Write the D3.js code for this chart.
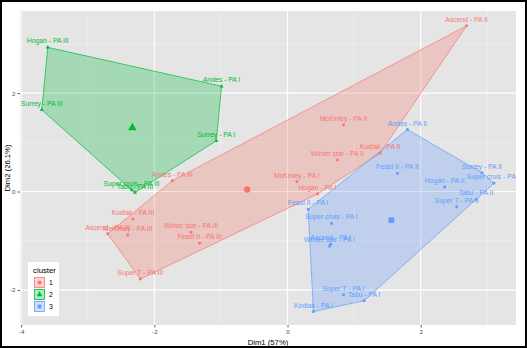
<!DOCTYPE html>
<html>
<head>
<meta charset="utf-8">
<title>Cluster plot</title>
<script src="https://cdnjs.cloudflare.com/ajax/libs/d3/7.8.5/d3.min.js"></script>
<style>
  body { margin: 0; background: #fff; }
  svg { display: block; font-family: "Liberation Sans", Arial, sans-serif; }
</style>
</head>
<body>
<script>
// Cultivar names
const names = [
  "Ascend - PA II", "Andes - PA III", "Kodiak - PA III", "Ascend - PA III",
  "McKinley - PA III", "Super T - PA III", "Winter star - PA III", "Feast II - PA III",
  "McKinley - PA II", "Winter star - PA II", "McKinley - PA I", "Hogan - PA I",
  "Kodiak - PA II",
  "Hogan - PA III", "Surrey - PA III", "Andes - PA I", "Surrey - PA I",
  "Super cruis - PA III", "Tabu - PA III",
  "Andes - PA II", "Feast II - PA II", "Surrey - PA II", "Super cruis - PA II",
  "Hogan - PA II", "Tabu - PA II", "Super T - PA II", "Feast II - PA I",
  "Super cruis - PA I", "Winter star - PA I", "Ascend - PA I", "Kodiak - PA I",
  "Super T - PA I", "Tabu - PA I"
];
const dim1 = [
  2.69, -1.73, -2.32, -2.70, -2.40, -2.21, -1.45, -1.32, 0.84, 0.75, 0.14, 0.45, 1.39,
  -3.60, -3.69, -0.99, -1.07, -2.34, -2.29,
  1.80, 1.65, 2.92, 3.10, 2.36, 2.83, 2.54, 0.31, 0.66, 0.63, 0.65, 0.39, 0.84, 1.15
];
const dim2 = [
  3.37, 0.22, -0.56, -0.86, -0.89, -1.78, -0.83, -1.05, 1.35, 0.64, 0.20, -0.05, 0.78,
  2.93, 1.66, 2.14, 1.03, 0.03, -0.02,
  1.26, 0.37, 0.38, 0.17, 0.09, -0.16, -0.31, -0.36, -0.65, -1.11, -1.07, -2.44, -2.10, -2.22
];
const cluster = [
  "1", "1", "1", "1", "1", "1", "1", "1", "1", "1", "1", "1", "1",
  "2", "2", "2", "2", "2", "2",
  "3", "3", "3", "3", "3", "3", "3", "3", "3", "3", "3", "3", "3", "3"
];
const clusterIds = ["1", "2", "3"];
const xTicks = [-4, -2, 0, 2];
const yTicks = [-2, 0, 2];

// Colours and shapes per cluster
const colors = ["#F8766D", "#00BA38", "#619CFF"];
const shapes = [d3.symbolCircle, d3.symbolTriangle, d3.symbolSquare];

const w = 527;
const h = 348;
const panel = { left: 20, right: 516, top: 11, bottom: 325 };

const svg = d3.select("body")
  .append("svg")
  .attr("width", w)
  .attr("height", h);

// Black frame around the picture
svg.append("rect")
  .attr("x", 1).attr("y", 1)
  .attr("width", w - 2).attr("height", h - 2)
  .attr("fill", "#fff")
  .attr("stroke", "#000")
  .attr("stroke-width", 2);

const xScale = d3.scaleLinear()
  .domain([-4.017, 3.431])
  .range([panel.left, panel.right]);

const yScale = d3.scaleLinear()
  .domain([-2.713, 3.669])
  .range([panel.bottom, panel.top]);

const colorScale = d3.scaleOrdinal().domain(clusterIds).range(colors);
const shapeScale = d3.scaleOrdinal().domain(clusterIds).range(shapes);

// Panel background
svg.append("rect")
  .attr("x", panel.left).attr("y", panel.top)
  .attr("width", panel.right - panel.left)
  .attr("height", panel.bottom - panel.top)
  .attr("fill", "#E5E5E5");

svg.append("clipPath")
  .attr("id", "clip")
  .append("rect")
  .attr("x", panel.left).attr("y", panel.top)
  .attr("width", panel.right - panel.left)
  .attr("height", panel.bottom - panel.top);

// Minor and major grid lines
const grid = svg.append("g");
const minorX = xTicks.map(t => t + 1);
const minorY = yTicks.map(t => t + 1);
grid.selectAll(".minx").data(minorX).enter().append("line")
  .attr("x1", d => xScale(d)).attr("x2", d => xScale(d))
  .attr("y1", panel.top).attr("y2", panel.bottom)
  .attr("stroke", "#F2F2F2").attr("stroke-width", 0.6);
grid.selectAll(".miny").data(minorY).enter().append("line")
  .attr("y1", d => yScale(d)).attr("y2", d => yScale(d))
  .attr("x1", panel.left).attr("x2", panel.right)
  .attr("stroke", "#F2F2F2").attr("stroke-width", 0.6);
grid.selectAll(".majx").data(xTicks).enter().append("line")
  .attr("x1", d => xScale(d)).attr("x2", d => xScale(d))
  .attr("y1", panel.top).attr("y2", panel.bottom)
  .attr("stroke", "#fff").attr("stroke-width", 1.1);
grid.selectAll(".majy").data(yTicks).enter().append("line")
  .attr("y1", d => yScale(d)).attr("y2", d => yScale(d))
  .attr("x1", panel.left).attr("x2", panel.right)
  .attr("stroke", "#fff").attr("stroke-width", 1.1);

// Build the points table
const points = names.map((n, i) => ({ name: n, x: dim1[i], y: dim2[i], c: cluster[i] }));

const plot = svg.append("g").attr("clip-path", "url(#clip)");

// Convex hull per cluster
clusterIds.forEach(function(id) {
  const pts = points.filter(p => p.c === id).map(p => [xScale(p.x), yScale(p.y)]);
  const hull = d3.polygonHull(pts);
  plot.append("path")
    .attr("d", "M" + hull.join("L") + "Z")
    .attr("fill", colorScale(id))
    .attr("fill-opacity", 0.28)
    .attr("stroke", colorScale(id))
    .attr("stroke-width", 0.7);
});

// Observations
plot.selectAll(".pt")
  .data(points)
  .enter()
  .append("path")
  .attr("class", "pt")
  .attr("transform", d => `translate(${xScale(d.x)},${yScale(d.y)})`)
  .attr("d", d => d3.symbol().type(shapeScale(d.c)).size(7)())
  .attr("fill", d => colorScale(d.c));

// Labels above the points
plot.selectAll(".lbl")
  .data(points)
  .enter()
  .append("text")
  .attr("class", "lbl")
  .attr("x", d => xScale(d.x))
  .attr("y", d => yScale(d.y) - 4)
  .attr("text-anchor", "middle")
  .attr("font-size", "6.8px")
  .attr("fill", d => colorScale(d.c))
  .text(d => d.name);

// Cluster centres
const centres = clusterIds.map(function(id) {
  const pts = points.filter(p => p.c === id);
  return { c: id, x: d3.mean(pts, p => p.x), y: d3.mean(pts, p => p.y) };
});
plot.selectAll(".centre")
  .data(centres)
  .enter()
  .append("path")
  .attr("transform", d => `translate(${xScale(d.x)},${yScale(d.y)})`)
  .attr("d", d => d3.symbol().type(shapeScale(d.c)).size(32)())
  .attr("fill", d => colorScale(d.c));

// Axes (plain hyphen for negatives, no decimals)
const xAxis = svg.append("g")
  .attr("transform", `translate(0,${panel.bottom})`)
  .call(d3.axisBottom(xScale).tickValues(xTicks).tickFormat(d => String(d))
    .tickSize(2.5).tickPadding(2));
const yAxis = svg.append("g")
  .attr("transform", `translate(${panel.left},0)`)
  .call(d3.axisLeft(yScale).tickValues(yTicks).tickFormat(d => String(d))
    .tickSize(2.5).tickPadding(2));
[xAxis, yAxis].forEach(function(a) {
  a.select(".domain").remove();
  a.selectAll("line").attr("stroke", "#333").attr("stroke-width", 0.8);
  a.selectAll("text")
    .attr("fill", "#4D4D4D")
    .style("font-size", "6.2px")
    .style("font-family", "'Liberation Sans', Arial, sans-serif");
});

// Axis titles
svg.append("text")
  .attr("x", (panel.left + panel.right) / 2)
  .attr("y", 344.5)
  .attr("text-anchor", "middle")
  .attr("font-size", "7.7px")
  .text("Dim1 (57%)");

svg.append("text")
  .attr("transform", `translate(9.5,${(panel.top + panel.bottom) / 2}) rotate(-90)`)
  .attr("text-anchor", "middle")
  .attr("font-size", "7.7px")
  .text("Dim2 (26.1%)");

// Legend
const legend = svg.append("g").attr("transform", "translate(28,262)");
legend.append("rect")
  .attr("width", 31).attr("height", 54)
  .attr("fill", "#fff");
legend.append("text")
  .attr("x", 5).attr("y", 11)
  .attr("font-size", "7.8px")
  .text("cluster");
const keys = legend.selectAll(".key")
  .data(clusterIds)
  .enter()
  .append("g")
  .attr("transform", (d, i) => `translate(6,${15 + i * 12})`);
keys.append("rect")
  .attr("x", 0.5).attr("y", 0.5)
  .attr("width", 10).attr("height", 10)
  .attr("fill", d => colorScale(d))
  .attr("fill-opacity", 0.3)
  .attr("stroke", d => colorScale(d))
  .attr("stroke-width", 0.8);
keys.append("path")
  .attr("transform", "translate(5.5,5.5)")
  .attr("d", d => d3.symbol().type(shapeScale(d)).size(14)())
  .attr("fill", d => colorScale(d));
keys.append("text")
  .attr("x", 15).attr("y", 8.3)
  .attr("font-size", "6.8px")
  .text(d => d);
</script>
</body>
</html>
